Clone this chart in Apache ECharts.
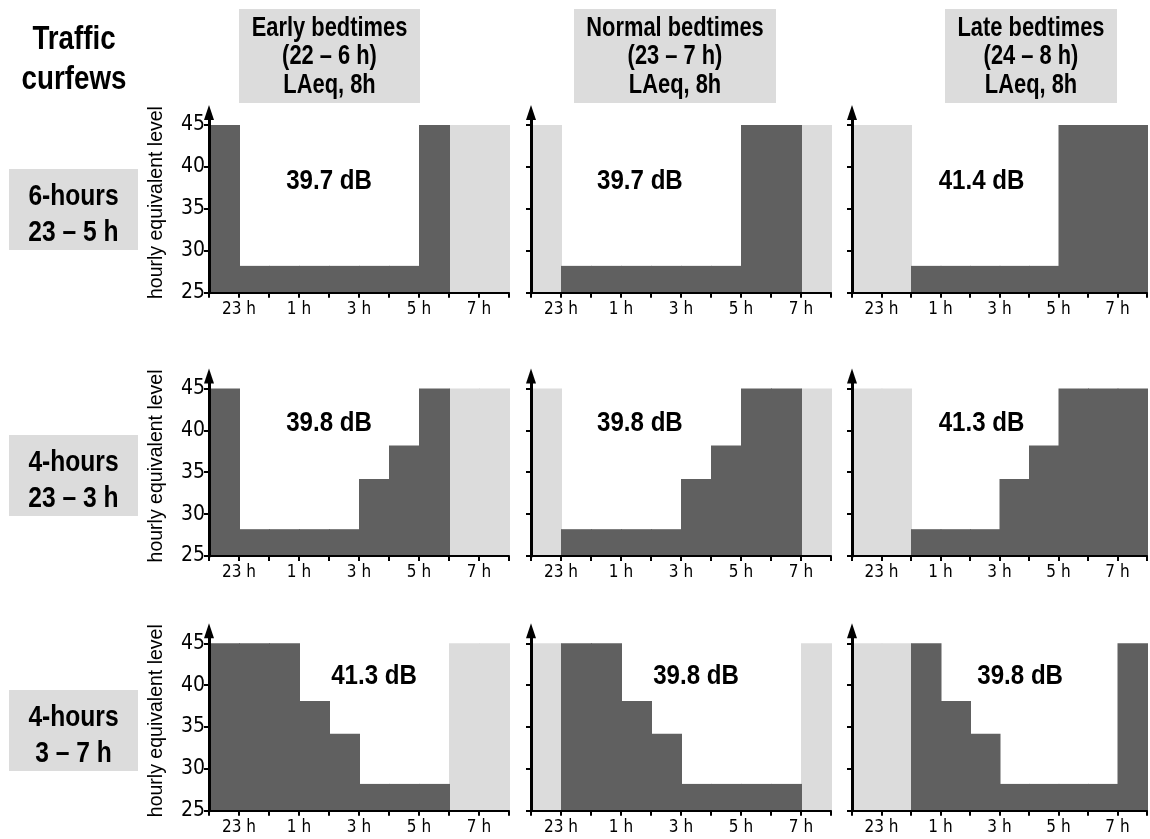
<!DOCTYPE html>
<html><head><meta charset="utf-8">
<script src="https://cdn.jsdelivr.net/npm/echarts@6/dist/echarts.min.js"></script>
<style>html,body{margin:0;padding:0;background:#fff}#c{width:1150px;height:839px}</style>
</head><body><div id="c"></div>
<script>
// ---------- data ----------
const hourTickLabels = ['', '23 h', '', '1 h', '', '3 h', '', '5 h', '', '7 h', ''];
const yTickValues = [25, 30, 35, 40, 45];
const bedtimeNames = ['Early bedtimes', 'Normal bedtimes', 'Late bedtimes'];
const bedtimeRanges = ['(22 – 6 h)', '(23 – 7 h)', '(24 – 8 h)'];
const bedtimeMetric = 'LAeq, 8h';
const bedtimeFirstSlot = [0, 1, 2];   // slot 0 = 22-23 h ... slot 9 = 7-8 h
const bedtimeLength = 8;
const curfewNames = ['6-hours', '4-hours', '4-hours'];
const curfewRanges = ['23 – 5 h', '23 – 3 h', '3 – 7 h'];
// hourly equivalent level per slot (22 h … 7 h)
const levels6h_23_5 = [45, 28.2, 28.2, 28.2, 28.2, 28.2, 28.2, 45, 45, 45];
const levels4h_23_3 = [45, 28.2, 28.2, 28.2, 28.2, 34.2, 38.2, 45, 45, 45];
const levels4h_3_7  = [45, 45, 45, 38.1, 34.2, 28.2, 28.2, 28.2, 28.2, 45];
const laeqRow1 = ['39.7 dB', '39.7 dB', '41.4 dB'];
const laeqRow2 = ['39.8 dB', '39.8 dB', '41.3 dB'];
const laeqRow3 = ['41.3 dB', '39.8 dB', '39.8 dB'];
const awakeBandTop = 45;
const yMin = 25, yMax = 46.5;

// ---------- layout ----------
const colLeft = [209, 531, 852];
const gridWidth = 300;
const rowTop = [112.4, 375.9, 630.7];
const rowHeight = [180.3, 180.1, 180.0];
const laeqPosX = [[4.0, 3.63, 4.39], [4.0, 3.63, 4.39], [5.5, 5.5, 5.7]];
const laeqPosY = [38.3, 40.9, 41.0];

const DARK = '#606060', LIGHT = '#dcdcdc', BOX = '#dcdcdc';
const NARROW = "'DejaVu Sans Condensed','Liberation Sans',sans-serif";
const REG = "'Liberation Sans',Arial,sans-serif";

const rows = [levels6h_23_5, levels4h_23_3, levels4h_3_7];
const laeq = [laeqRow1, laeqRow2, laeqRow3];

const grids = [], xAxes = [], yAxes = [], series = [];
function rectItem(color) {
  return function (params, api) {
    const x0 = api.value(0), v = api.value(1);
    const p0 = api.coord([x0, yMin]);
    const p1 = api.coord([x0 + 1, v]);
    return { type: 'rect', shape: { x: p0[0], y: p1[1], width: p1[0] - p0[0] + 1, height: p0[1] - p1[1] }, style: { fill: color } };
  };
}
for (let r = 0; r < 3; r++) {
  for (let c = 0; c < 3; c++) {
    const idx = r * 3 + c;
    grids.push({ left: colLeft[c], top: rowTop[r], width: gridWidth, height: rowHeight[r] });
    xAxes.push({
      type: 'value', gridIndex: idx, min: 0, max: 10, interval: 1, z: 5,
      axisLine: { lineStyle: { color: '#000', width: 2 } },
      axisTick: { show: true, length: 5, lineStyle: { color: '#000', width: 2 } },
      axisLabel: { formatter: v => hourTickLabels[Math.round(v)] || '', fontSize: 17, fontFamily: NARROW, color: '#000', margin: 8, showMinLabel: true, showMaxLabel: true },
      splitLine: { show: false }
    });
    yAxes.push({
      type: 'value', gridIndex: idx, min: yMin, max: yMax, interval: 5, z: 5,
      name: c === 0 ? 'hourly equivalent level' : '',
      nameLocation: 'middle', nameGap: 42,
      nameTextStyle: { fontSize: 19.5, fontFamily: REG, color: '#000' },
      axisLine: { lineStyle: { color: '#000', width: 3 }, symbol: ['none', 'triangle'], symbolSize: [10, 15] },
      axisTick: { show: true, length: 5, lineStyle: { color: '#000', width: 2 }, customValues: yTickValues },
      axisLabel: { show: c === 0, fontSize: 21, fontFamily: NARROW, color: '#000', margin: 4, customValues: yTickValues },
      splitLine: { show: false }
    });
    const bed = [], awake = [];
    for (let s = 0; s < 10; s++) {
      const inBed = s >= bedtimeFirstSlot[c] && s < bedtimeFirstSlot[c] + bedtimeLength;
      if (inBed) bed.push([s, rows[r][s]]); else awake.push([s, awakeBandTop]);
    }
    series.push({ type: 'custom', xAxisIndex: idx, yAxisIndex: idx, z: 2, silent: true, renderItem: rectItem(LIGHT), data: awake });
    series.push({ type: 'custom', xAxisIndex: idx, yAxisIndex: idx, z: 2, silent: true, renderItem: rectItem(DARK), data: bed });
    const txt = laeq[r][c];
    series.push({
      type: 'custom', xAxisIndex: idx, yAxisIndex: idx, z: 6, silent: true,
      data: [[laeqPosX[r][c], laeqPosY[r]]],
      renderItem: (params, api) => {
        const p = api.coord([api.value(0), api.value(1)]);
        return { type: 'text', x: p[0], y: p[1], scaleX: 0.86, style: { text: txt, fontSize: 28, fontFamily: REG, fontWeight: 'bold', fill: '#000', align: 'center', verticalAlign: 'middle', textAlign: 'center', textVerticalAlign: 'middle' } };
      }
    });
  }
}

function textEl(text, x, y, size, weight, lh, sx) {
  return { type: 'text', z: 10, x: x, y: y, scaleX: sx, style: { text: text, fontSize: size, fontWeight: weight, fontFamily: REG, lineHeight: lh, fill: '#000', align: 'center', verticalAlign: 'middle', textAlign: 'center', textVerticalAlign: 'middle' } };
}
const graphics = [];
graphics.push(textEl('Traffic\ncurfews', 74, 60, 33, 'bold', 40, 0.84));
const colBox = [[239, 420], [574, 776], [945, 1117]];
for (let c = 0; c < 3; c++) {
  graphics.push({ type: 'rect', z: 9, shape: { x: colBox[c][0], y: 9, width: colBox[c][1] - colBox[c][0], height: 94 }, style: { fill: BOX } });
  graphics.push(textEl(bedtimeNames[c] + '\n' + bedtimeRanges[c] + '\n' + bedtimeMetric, (colBox[c][0] + colBox[c][1]) / 2, 57, 27, 'bold', 28.5, 0.81));
}
const rowBoxY = [169, 435, 690];
for (let r = 0; r < 3; r++) {
  graphics.push({ type: 'rect', z: 9, shape: { x: 9, y: rowBoxY[r], width: 129, height: 81 }, style: { fill: BOX } });
  graphics.push(textEl(curfewNames[r] + '\n' + curfewRanges[r], 73.5, rowBoxY[r] + 46, 30, 'bold', 36, 0.82));
}

const chart = echarts.init(document.getElementById('c'));
chart.setOption({ animation: false, backgroundColor: '#fff', grid: grids, xAxis: xAxes, yAxis: yAxes, series: series, graphic: { elements: graphics } });
</script></body></html>
